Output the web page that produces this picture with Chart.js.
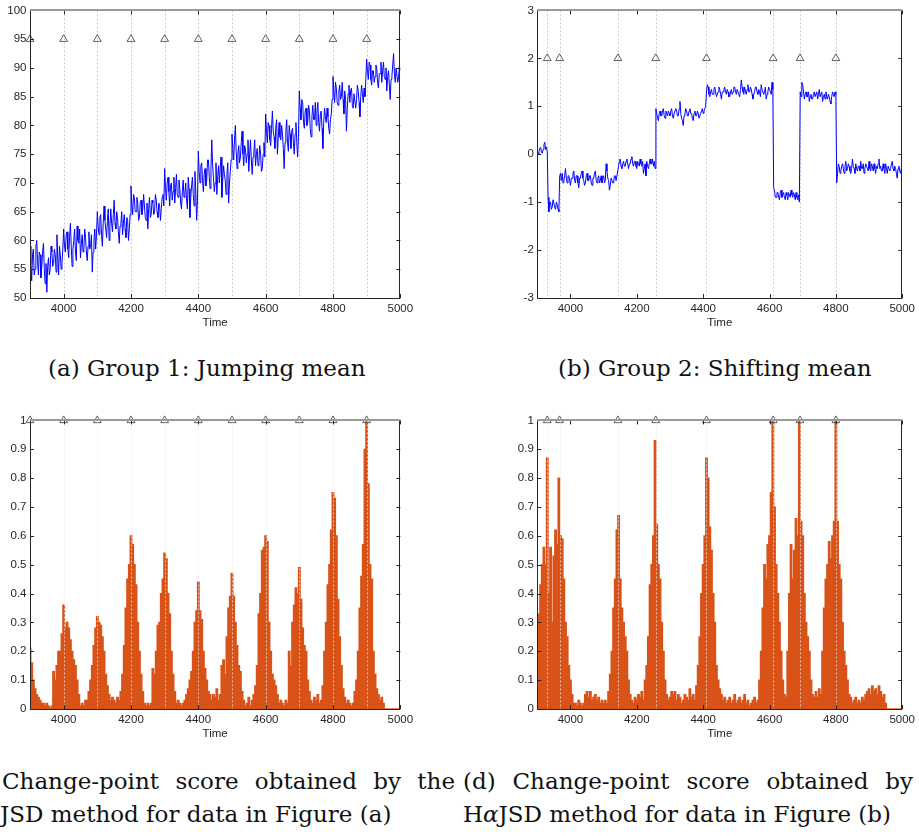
<!DOCTYPE html>
<html>
<head>
<meta charset="utf-8">
<script src="https://cdn.jsdelivr.net/npm/chart.js@4/dist/chart.umd.min.js"></script>
<style>
  html, body { margin: 0; padding: 0; background: #fff; }
  body { width: 919px; height: 836px; position: relative; overflow: hidden; }
  canvas { position: absolute; }
  .cap { position: absolute; font-family: "DejaVu Serif", serif; font-size: 23px; line-height: 33px; color: #111; white-space: nowrap; }
  .just { white-space: normal; text-align: justify; text-align-last: justify; }
</style>
</head>
<body>
<canvas id="chartA" width="459" height="335" style="left:0;top:0"></canvas>
<canvas id="chartB" width="460" height="335" style="left:459px;top:0"></canvas>
<canvas id="chartC" width="459" height="336" style="left:0;top:410px"></canvas>
<canvas id="chartD" width="460" height="336" style="left:459px;top:410px"></canvas>

<div class="cap" style="left:48px;top:352px">(a) Group 1: Jumping mean</div>
<div class="cap" style="left:558px;top:352px">(b) Group 2: Shifting mean</div>
<div class="cap just" style="left:2px;top:765px;width:453px">Change-point score obtained by the</div>
<div class="cap" style="left:0;top:798px">JSD method for data in Figure (a)</div>
<div class="cap just" style="left:463px;top:765px;width:450px">(d) Change-point score obtained by</div>
<div class="cap" style="left:463px;top:798px">H<i>α</i>JSD method for data in Figure (b)</div>

<script>
// Time grids: signals every 2.5 steps, scores every 5 steps, both from 3900 to 5000
const timeStart = 3900;
const signalTime = Array.from({ length: 441 }, (_, i) => timeStart + 2.5 * i);
const scoreTime = Array.from({ length: 221 }, (_, i) => timeStart + 5 * i);

const xTickValues = [4000, 4200, 4400, 4600, 4800, 5000];

// Group 1: jumping mean (one row per 100 time steps)
const jumpingMean = [
  59, 56, 53, 57.5, 58.5, 54, 55, 59, 60, 56.5, 54, 58, 57.5, 53.5, 55.5, 58, 59.5, 55, 52.5, 56,
  51, 55.5, 57, 54, 55, 59, 58, 55.5, 56, 58.5, 57.5, 54.5, 61, 57, 54, 59, 57.5, 55, 56, 58.5,
  62, 59, 58, 61, 61.5, 58.5, 57, 60.5, 63, 59, 55.5, 58.5, 60, 62, 58, 56.5, 62.5, 60, 59.5, 62,
  57, 59.5, 61, 58, 58.5, 62, 60.5, 58, 56.5, 59, 61.5, 58.5, 59, 61, 54.5, 58, 60, 62, 58.5, 61,
  65, 62.5, 61, 64, 64.5, 61, 59, 63, 66, 63.5, 62, 60.5, 63.5, 65.5, 60, 62.5, 65.5, 63, 61.5, 64.5,
  67, 63, 62, 65, 64, 61.5, 59.5, 62.5, 63, 65, 61, 63, 64.5, 62, 60.5, 64, 63.5, 60, 62, 64.5,
  69.5, 66, 64.5, 68, 67.5, 65, 65, 67.5, 66.5, 63.5, 64, 66.5, 67, 64.5, 65.5, 68, 66, 64, 63.5, 66.5,
  62, 65.5, 67.5, 64, 64.5, 67, 66.5, 64.5, 65, 68, 67, 65, 64, 66.5, 66, 63.5, 65.5, 67.5, 68, 66,
  72.5, 69, 67, 70, 71, 68.5, 66, 69.5, 70, 67, 68.5, 71, 66.5, 69, 71.5, 68, 67.5, 70.5, 69, 66.5,
  65.5, 68.5, 70.5, 67.5, 68, 70, 67, 65.5, 71, 69, 64, 67.5, 69.5, 71, 68, 66, 72, 68.5, 63.5, 67,
  75.5, 72, 70, 73, 73.5, 70.5, 68.5, 71.5, 72.5, 69.5, 70.5, 74, 74, 71, 69, 72.5, 77.5, 73, 71, 68.5,
  70, 73.5, 68, 71, 73, 70, 72.5, 74.5, 67.5, 70.5, 73, 71.5, 70.5, 68, 71.5, 73.5, 66.5, 70, 72, 74,
  78.5, 76, 74, 77.5, 80, 75.5, 72.5, 75, 76.5, 73.5, 74.5, 77, 79, 75, 73, 76.5, 76, 73.5, 75, 77.5,
  72, 75, 77.5, 74, 71.5, 74.5, 75.5, 77.5, 73, 75, 76, 73, 73.5, 76.5, 75, 72, 72.5, 75, 77, 74.5,
  82, 79, 77, 80.5, 80, 77.5, 76.5, 79.5, 82.5, 79, 78, 76, 79.5, 81, 75, 78, 80.5, 78, 77.5, 80,
  78.5, 76, 72.5, 77, 79, 81, 77, 75.5, 80, 78.5, 76, 79, 79.5, 77, 75, 78.5, 80.5, 77, 74.5, 78,
  86, 83, 81, 84.5, 84, 80.5, 79.5, 82.5, 83, 80, 80.5, 83.5, 82.5, 79.5, 78, 81.5, 83.5, 81, 81, 84,
  80, 82.5, 84, 80.5, 79, 82, 82.5, 79.5, 76, 80.5, 83, 81.5, 80.5, 83, 81.5, 79.5, 78.5, 81, 82, 84.5,
  88.5, 86, 84, 87.5, 86.5, 84, 83.5, 86, 87, 84.5, 85, 87.5, 84.5, 82, 86, 84.5, 79, 83, 85.5, 87,
  84, 86, 86.5, 83.5, 83, 85.5, 85.5, 83, 84.5, 87, 86, 84, 81.5, 85, 87, 85.5, 84, 86.5, 85, 88,
  91.5, 89.5, 88, 91, 90.5, 88, 87, 89.5, 89.5, 87.5, 88.5, 90.5, 90, 87.5, 86.5, 89, 89, 91, 87.5, 89.5,
  91, 88.5, 88, 90, 86, 88.5, 89.5, 87, 84.5, 88, 88.5, 90.5, 92.5, 89, 87.5, 90, 90, 87.5, 88.5, 90.5,
  89.5
];

// Group 2: shifting mean
const shiftingMean = [
  0.1, 0.0, 0.05, 0.12, 0.15, 0.05, 0.02, 0.1, 0.2, 0.25, 0.1, 0.15, 0.05, -0.9, -1.2, -1.0, -1.0, -1.15, -1.1, -0.95,
  -0.95, -1.1, -1.15, -1.0, -1.05, -1.15, -1.2, -0.45, -0.4, -0.55, -0.4, -0.6, -0.55, -0.45, -0.3, -0.5, -0.6, -0.45, -0.45, -0.55,
  -0.65, -0.5, -0.5, -0.4, -0.35, -0.55, -0.6, -0.45, -0.45, -0.6, -0.7, -0.5, -0.5, -0.4, -0.35, -0.5, -0.55, -0.65, -0.6, -0.45,
  -0.4, -0.55, -0.55, -0.45, -0.45, -0.6, -0.65, -0.5, -0.5, -0.4, -0.35, -0.55, -0.6, -0.5, -0.45, -0.6, -0.55, -0.45, -0.6, -0.5,
  -0.45, -0.6, -0.55, -0.2, -0.35, -0.5, -0.55, -0.75, -0.65, -0.5, -0.5, -0.6, -0.6, -0.45, -0.45, -0.55, -0.55, -0.35, -0.25, -0.15,
  -0.1, -0.25, -0.3, -0.2, -0.15, -0.25, -0.25, -0.15, -0.1, -0.2, -0.3, -0.2, -0.2, -0.1, -0.05, -0.2, -0.25, -0.15, -0.15, -0.25,
  -0.3, -0.15, -0.2, -0.25, -0.1, -0.2, -0.25, -0.15, -0.4, -0.3, -0.2, -0.45, -0.15, -0.25, -0.3, -0.2, -0.1, -0.2, -0.2, -0.1,
  -0.25, -0.15, -0.3, 0.95, 0.85, 0.75, 0.7, 0.85, 0.9, 0.8, 0.8, 0.9, 0.95, 0.8, 0.75, 0.9, 0.85, 0.8, 0.9, 0.85,
  0.8, 0.9, 0.95, 0.8, 0.75, 0.85, 0.85, 0.95, 0.9, 0.8, 0.8, 0.95, 1.1, 0.85, 0.75, 0.7, 0.6, 0.8, 0.85, 0.95,
  0.9, 0.8, 0.8, 0.9, 0.95, 0.85, 0.85, 0.75, 0.7, 0.85, 0.9, 0.8, 0.8, 0.9, 0.85, 0.75, 0.75, 0.85, 0.9, 0.95,
  0.85, 0.9, 0.95, 1.0, 1.3, 1.45, 1.4, 1.25, 1.2, 1.3, 1.35, 1.25, 1.25, 1.35, 1.4, 1.3, 1.2, 1.25, 1.3, 1.4,
  1.35, 1.25, 1.15, 1.3, 1.3, 1.35, 1.4, 1.3, 1.25, 1.35, 1.3, 1.2, 1.2, 1.3, 1.35, 1.25, 1.3, 1.4, 1.4, 1.3,
  1.25, 1.35, 1.35, 1.25, 1.2, 1.35, 1.55, 1.4, 1.3, 1.25, 1.4, 1.3, 1.25, 1.35, 1.45, 1.3, 1.3, 1.4, 1.35, 1.25,
  1.15, 1.25, 1.3, 1.4, 1.4, 1.3, 1.25, 1.35, 1.3, 1.2, 1.45, 1.35, 1.35, 1.25, 1.3, 1.4, 1.15, 1.25, 1.3, 1.4,
  1.35, 1.3, 1.25, 1.5, 1.35, -0.7, -0.75, -0.9, -0.9, -0.8, -0.8, -0.9, -0.95, -0.8, -0.75, -0.9, -0.85, -0.8, -0.9, -0.95,
  -0.8, -0.85, -0.95, -0.8, -0.85, -0.9, -0.75, -0.85, -0.9, -0.8, -0.85, -0.95, -0.8, -0.9, -0.95, -0.85, -1.0, 1.3, 1.2, 1.5,
  1.45, 1.3, 1.15, 1.25, 1.3, 1.2, 1.2, 1.3, 1.1, 1.2, 1.25, 1.15, 1.15, 1.25, 1.3, 1.2, 1.2, 1.3, 1.15, 1.25,
  1.35, 1.2, 1.2, 1.3, 1.1, 1.2, 1.25, 1.15, 1.3, 1.2, 1.15, 1.25, 1.2, 1.1, 1.05, 1.2, 1.3, 1.25, 1.2, 1.3,
  1.25, -0.6, -0.4, -0.2, -0.25, -0.4, -0.35, -0.25, -0.2, -0.3, -0.4, -0.25, -0.15, -0.35, -0.3, -0.2, -0.25, -0.35, -0.4, -0.3,
  -0.1, -0.25, -0.3, -0.4, -0.2, -0.3, -0.35, -0.25, -0.25, -0.35, -0.15, -0.3, -0.3, -0.2, -0.4, -0.3, -0.2, -0.25, -0.3, -0.35,
  -0.15, -0.3, -0.35, -0.2, -0.25, -0.35, -0.2, -0.3, -0.4, -0.25, -0.3, -0.2, -0.1, -0.3, -0.25, -0.35, -0.35, -0.2, -0.3, -0.4,
  -0.2, -0.3, -0.4, -0.25, -0.25, -0.35, -0.3, -0.2, -0.15, -0.3, -0.35, -0.25, -0.3, -0.4, -0.5, -0.3, -0.25, -0.35, -0.4, -0.3,
  -0.35
];

// Change-point score, JSD, for group 1
const scoreJSD = [
  0.21, 0.16, 0.1, 0.07, 0.05, 0.04, 0.03, 0.02, 0.02, 0.01, 0.02, 0.01, 0, 0.01, 0.13, 0.1, 0.15, 0.2, 0.2, 0.26,
  0.36, 0.28, 0.3, 0.28, 0.24, 0.2, 0.17, 0.15, 0.1, 0.05, 0.01, 0.02, 0.01, 0.03, 0.03, 0.06, 0.1, 0.15, 0.22, 0.28,
  0.32, 0.3, 0.29, 0.25, 0.2, 0.12, 0.08, 0.05, 0.03, 0.04, 0.03, 0.02, 0.04, 0.03, 0.06, 0.12, 0.22, 0.35, 0.45, 0.5,
  0.6, 0.57, 0.5, 0.43, 0.3, 0.2, 0.12, 0.06, 0.02, 0.01, 0.02, 0.01, 0.02, 0.14, 0.12, 0.2, 0.29, 0.3, 0.4, 0.45,
  0.54, 0.52, 0.4, 0.33, 0.2, 0.12, 0.06, 0.02, 0.03, 0.02, 0.01, 0.02, 0.03, 0.05, 0.07, 0.1, 0.13, 0.2, 0.3, 0.34,
  0.44, 0.34, 0.31, 0.2, 0.14, 0.1, 0.06, 0.05, 0.03, 0.05, 0.04, 0.07, 0.03, 0.05, 0.15, 0.17, 0.12, 0.25, 0.35, 0.39,
  0.47, 0.39, 0.3, 0.22, 0.15, 0.13, 0.06, 0.03, 0.01, 0.02, 0.04, 0.01, 0.03, 0.05, 0.08, 0.15, 0.33, 0.4, 0.55, 0.56,
  0.6, 0.58, 0.3, 0.2, 0.12, 0.1, 0.08, 0.05, 0.02, 0.03, 0.02, 0.01, 0.03, 0.02, 0.2, 0.15, 0.3, 0.36, 0.42, 0.4,
  0.49, 0.38, 0.28, 0.22, 0.2, 0.1, 0.06, 0.03, 0.02, 0.04, 0.03, 0.05, 0.02, 0.03, 0.08, 0.2, 0.3, 0.43, 0.5, 0.62,
  0.75, 0.73, 0.6, 0.38, 0.25, 0.15, 0.07, 0.04, 0.02, 0.03, 0.02, 0.01, 0.02, 0.06, 0.1, 0.2, 0.35, 0.46, 0.57, 0.9,
  1.0, 0.78, 0.5, 0.45, 0.2, 0.12, 0.07, 0.05, 0.03, 0.04, 0.02, 0, 0, 0, 0, 0, 0, 0, 0, 0,
  0
];

// Change-point score, HαJSD, for group 2
const scoreHaJSD = [
  0.2, 0.33, 0.43, 0.5, 0.56, 0.5, 0.87, 0.4, 0.56, 0.3, 0.53, 0.62, 0.57, 0.8, 0.6, 0.59, 0.45, 0.3, 0.25, 0.15,
  0.1, 0.05, 0.02, 0.02, 0.01, 0.03, 0.02, 0.01, 0.02, 0.05, 0.06, 0.04, 0.06, 0.03, 0.04, 0.05, 0.03, 0.04, 0.02, 0.03,
  0.02, 0.03, 0.02, 0.06, 0.12, 0.2, 0.35, 0.45, 0.62, 0.67, 0.45, 0.35, 0.3, 0.25, 0.2, 0.1, 0.05, 0.03, 0.02, 0.04,
  0.03, 0.05, 0.04, 0.06, 0.03, 0.1, 0.15, 0.25, 0.43, 0.5, 0.6, 0.93, 0.64, 0.5, 0.45, 0.3, 0.2, 0.1, 0.05, 0.03,
  0.04, 0.06, 0.05, 0.06, 0.03, 0.05, 0.04, 0.02, 0.03, 0.05, 0.04, 0.03, 0.07, 0.04, 0.05, 0.03, 0.08, 0.15, 0.25, 0.4,
  0.5, 0.6, 0.87, 0.8, 0.63, 0.55, 0.4, 0.3, 0.15, 0.1, 0.07, 0.05, 0.03, 0.04, 0.02, 0.03, 0.04, 0.02, 0.03, 0.05,
  0.02, 0.03, 0.04, 0.02, 0.03, 0.05, 0.02, 0.03, 0.01, 0.02, 0.03, 0.04, 0.02, 0.03, 0.1, 0.2, 0.35, 0.5, 0.45, 0.57,
  0.6, 0.75, 1.0, 0.7, 0.5, 0.4, 0.3, 0.2, 0.1, 0.05, 0.04, 0.2, 0.4, 0.57, 0.45, 0.55, 0.66, 0.6, 1.0, 0.65,
  0.6, 0.4, 0.3, 0.25, 0.2, 0.1, 0.05, 0.04, 0.06, 0.04, 0.07, 0.05, 0.2, 0.35, 0.45, 0.5, 0.58, 0.52, 0.6, 0.65,
  1.0, 0.65, 0.5, 0.45, 0.3, 0.2, 0.15, 0.1, 0.05, 0.04, 0.02, 0.03, 0.04, 0.02, 0.03, 0.02, 0.04, 0.03, 0.05, 0.06,
  0.07, 0.05, 0.08, 0.06, 0.07, 0.05, 0.08, 0.06, 0.04, 0.05, 0.02, 0, 0, 0, 0, 0, 0, 0, 0, 0,
  0
];

// Known change points (marked with triangles)
const changePointsG1 = [3900, 4000, 4100, 4200, 4300, 4400, 4500, 4600, 4700, 4800, 4900];
const changePointsG2 = [3930, 3967, 4143, 4257, 4410, 4611, 4692, 4800];

const yTicksG1 = [50, 55, 60, 65, 70, 75, 80, 85, 90, 95, 100];
const yTicksG2 = [-3, -2, -1, 0, 1, 2, 3];
const yTicksScore = [0, 0.1, 0.2, 0.3, 0.4, 0.5, 0.6, 0.7, 0.8, 0.9, 1];

const AXIS_COLOR = '#262626';
const LINE_BLUE = '#0000ff';
const BAR_ORANGE = '#d95319';
const tickFont = { family: '"Liberation Sans", Arial, Helvetica, sans-serif', size: 11.5 };

// Dotted guides at the change points
function drawGuides(chart, opts) {
  const { ctx, chartArea: a, scales: { x } } = chart;
  ctx.save();
  ctx.beginPath();
  ctx.rect(a.left, a.top, a.right - a.left, a.bottom - a.top);
  ctx.clip();
  ctx.strokeStyle = opts.guideColor;
  ctx.lineWidth = 1;
  ctx.setLineDash([2, 2]);
  for (const cp of opts.changePoints) {
    const px = Math.round(x.getPixelForValue(cp)) + 0.5;
    ctx.beginPath();
    ctx.moveTo(px, a.top);
    ctx.lineTo(px, a.bottom);
    ctx.stroke();
  }
  ctx.restore();
}

// Axes box with inward tick marks on all four sides
function drawBox(chart) {
  const { ctx, chartArea: a, scales: { x, y } } = chart;
  const L = 4;
  ctx.save();
  ctx.setLineDash([]);
  ctx.strokeStyle = AXIS_COLOR;
  ctx.lineWidth = 1;
  ctx.beginPath();
  x.ticks.forEach(t => {
    const px = Math.round(x.getPixelForValue(t.value)) + 0.5;
    ctx.moveTo(px, a.bottom); ctx.lineTo(px, a.bottom - L);
    ctx.moveTo(px, a.top); ctx.lineTo(px, a.top + L);
  });
  y.ticks.forEach(t => {
    const py = Math.round(y.getPixelForValue(t.value)) + 0.5;
    ctx.moveTo(a.left, py); ctx.lineTo(a.left + L, py);
    ctx.moveTo(a.right, py); ctx.lineTo(a.right - L, py);
  });
  ctx.stroke();
  ctx.beginPath();
  ctx.moveTo(Math.round(a.left) + 0.5, a.top);
  ctx.lineTo(Math.round(a.left) + 0.5, Math.round(a.bottom) + 0.5);
  ctx.lineTo(Math.round(a.right) - 0.5, Math.round(a.bottom) + 0.5);
  ctx.lineTo(Math.round(a.right) - 0.5, a.top);
  ctx.stroke();
  ctx.strokeStyle = '#9a9a9a';
  ctx.lineWidth = 2;
  ctx.beginPath();
  ctx.moveTo(a.left, Math.round(a.top));
  ctx.lineTo(a.right, Math.round(a.top));
  ctx.stroke();
  ctx.restore();
}

const framePlugin = {
  id: 'frame',
  beforeDatasetsDraw(chart, args, opts) { if (!opts.guidesOnTop) drawGuides(chart, opts); },
  afterDatasetsDraw(chart, args, opts) { if (opts.guidesOnTop) drawGuides(chart, opts); drawBox(chart); }
};
Chart.register(framePlugin);

function markerDataset(points, level) {
  return {
    type: 'line',
    data: points.map(p => ({ x: p, y: level })),
    showLine: false,
    pointStyle: 'triangle',
    pointRadius: 4.5,
    pointHoverRadius: 4.5,
    pointBorderColor: '#3a3a3a',
    pointBorderWidth: 0.8,
    pointBackgroundColor: 'rgba(255,255,255,0)',
    clip: false
  };
}

function buildChart(id, opt) {
  const seriesPoints = opt.times.map((t, i) => ({ x: t, y: opt.values[i] }));
  const mainDataset = opt.kind === 'line'
    ? { type: 'line', data: seriesPoints, borderColor: LINE_BLUE, borderWidth: 1, pointRadius: 0, tension: 0 }
    : { type: 'bar', data: seriesPoints, backgroundColor: BAR_ORANGE, borderWidth: 0, inflateAmount: 0.6,
        barPercentage: 1, categoryPercentage: 1, grouped: false };
  return new Chart(document.getElementById(id), {
    type: opt.kind,
    data: { datasets: [markerDataset(opt.changePoints, opt.markerLevel), mainDataset] },
    options: {
      responsive: false,
      animation: false,
      devicePixelRatio: 1,
      events: [],
      layout: { padding: { left: opt.padLeft, right: opt.padRight, top: opt.padTop, bottom: 0 } },
      plugins: {
        legend: { display: false },
        tooltip: { enabled: false },
        frame: { changePoints: opt.changePoints, guidesOnTop: opt.guidesOnTop, guideColor: opt.guideColor }
      },
      scales: {
        x: {
          type: 'linear', min: 3900, max: 5000, offset: false,
          grid: { display: false, drawTicks: false }, border: { display: false },
          afterBuildTicks: s => { s.ticks = xTickValues.map(v => ({ value: v })); },
          afterFit: s => { s.height = 37; },
          ticks: { padding: 4, color: AXIS_COLOR, font: tickFont, maxRotation: 0, autoSkip: false, callback: v => String(v) },
          title: { display: true, text: 'Time', color: AXIS_COLOR, font: tickFont, padding: { top: 0, bottom: 5 } }
        },
        y: {
          type: 'linear', min: opt.yTicks[0], max: opt.yTicks[opt.yTicks.length - 1],
          grid: { display: false, drawTicks: false }, border: { display: false },
          afterBuildTicks: s => { s.ticks = opt.yTicks.map(v => ({ value: v })); },
          afterFit: s => { s.width = 30; },
          ticks: { padding: 3.5, color: AXIS_COLOR, font: tickFont, autoSkip: false, callback: v => String(Math.round(v * 10) / 10) }
        }
      }
    }
  });
}

buildChart('chartA', { kind: 'line', times: signalTime, values: jumpingMean, changePoints: changePointsG1, markerLevel: 95,
  yTicks: yTicksG1, padLeft: 0, padRight: 58.7, padTop: 7, guidesOnTop: false, guideColor: '#cccccc' });
buildChart('chartB', { kind: 'line', times: signalTime, values: shiftingMean, changePoints: changePointsG2, markerLevel: 2,
  yTicks: yTicksG2, padLeft: 48.3, padRight: 12.3, padTop: 7, guidesOnTop: false, guideColor: '#cccccc' });
buildChart('chartC', { kind: 'bar', times: scoreTime, values: scoreJSD, changePoints: changePointsG1, markerLevel: 1,
  yTicks: yTicksScore, padLeft: 0, padRight: 58.7, padTop: 7.7, guidesOnTop: true, guideColor: 'rgba(235,235,235,0.7)' });
buildChart('chartD', { kind: 'bar', times: scoreTime, values: scoreHaJSD, changePoints: changePointsG2, markerLevel: 1,
  yTicks: yTicksScore, padLeft: 48.3, padRight: 12.3, padTop: 7.7, guidesOnTop: true, guideColor: 'rgba(235,235,235,0.7)' });
</script>
</body>
</html>
